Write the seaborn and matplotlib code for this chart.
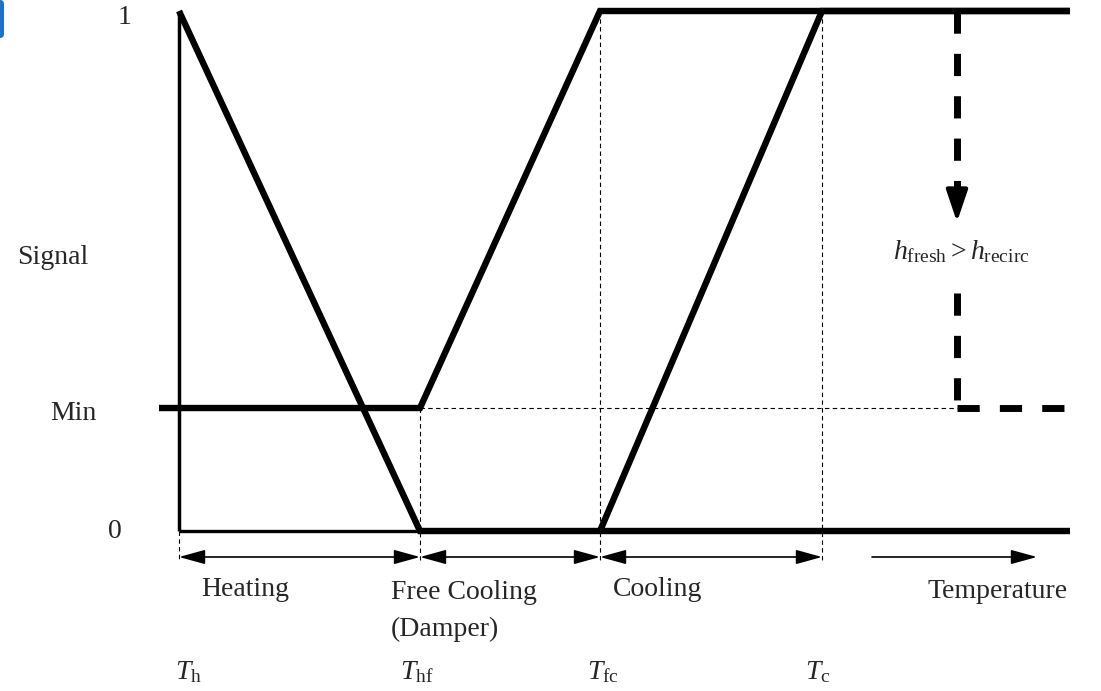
import numpy as np
import pandas as pd
import matplotlib
matplotlib.use("Agg")
import matplotlib.pyplot as plt
import seaborn as sns
from matplotlib.patches import FancyBboxPatch

sns.set_theme(style="white")
plt.rcParams["font.family"] = ["Liberation Serif", "DejaVu Serif"]
plt.rcParams["mathtext.fontset"] = "custom"
plt.rcParams["mathtext.rm"] = "Liberation Serif"
plt.rcParams["mathtext.it"] = "Liberation Serif:italic"
plt.rcParams["lines.solid_capstyle"] = "butt"
plt.rcParams["lines.solid_joinstyle"] = "miter"

# =============================
# DATA (temperature breakpoints, signal levels)
# =============================
T_h, T_hf, T_fc, T_c, T_end = 179, 420, 600, 822, 1070
T_min_start = 159
T_switch = 957
SIG_MIN = 0.2365

heat_x = [T_h, T_hf, T_end]
heat_y = [1, 0, 0]

damper_x = [T_min_start, T_hf, T_fc, T_end]
damper_y = [SIG_MIN, SIG_MIN, 1, 1]

cool_x = [T_fc, T_c, T_end]
cool_y = [0, 1, 1]

regions = ["Heating", "Free Cooling\n(Damper)", "Cooling"]
region_edges = [T_h, T_hf, T_fc, T_c]
temp_labels = [r"$T_{\mathrm{h}}$", r"$T_{\mathrm{hf}}$", r"$T_{\mathrm{fc}}$", r"$T_{\mathrm{c}}$"]
signal_labels = ["1", "Signal", "Min", "0"]

FS = 20

# pixel -> signal mapping for layout
def ypx(p):
    return (531 - p) / 520

fig = plt.figure(figsize=(11.01, 6.91), dpi=100)
ax = fig.add_axes([0, 0, 1, 1])
ax.set_xlim(0, 1101)
ax.set_ylim(ypx(691), ypx(0))
ax.axis("off")

# axis lines (thin)
ax.plot([T_h, T_h], [0, 1], color="black", lw=2.5)
ax.plot([T_h, T_hf], [0, 0], color="black", lw=2.4)

# main curves
for xs, ys in [(heat_x, heat_y), (damper_x, damper_y), (cool_x, cool_y)]:
    df = pd.DataFrame({"T": xs, "S": ys})
    sns.lineplot(data=df, x="T", y="S", sort=False, estimator=None,
                 color="black", linewidth=4.6, ax=ax)

# thin dashed guides
y_low = ypx(560)
thin = dict(color="black", lw=0.8, dashes=(4, 3))
ax.plot([T_h, T_h], [0, y_low], **thin)
ax.plot([T_hf, T_hf], [SIG_MIN, y_low], **thin)
ax.plot([T_fc, T_fc], [1, y_low], **thin)
ax.plot([T_c, T_c], [1, y_low], **thin)
ax.plot([T_hf, T_switch], [SIG_MIN, SIG_MIN], **thin)

# thick dashed enthalpy switch
thick = dict(color="black", lw=5.0, dashes=(3.2, 2.9))
ax.plot([T_switch, T_switch], [1, ypx(192)], **thick)
ax.annotate("", xy=(T_switch, ypx(222)), xytext=(T_switch, ypx(185)),
            arrowprops=dict(arrowstyle="-|>,head_length=0.65,head_width=0.22",
                            color="black", lw=3.0,
                            mutation_scale=30, shrinkA=0, shrinkB=0))
ax.plot([T_switch, T_switch], [ypx(293), SIG_MIN], **thick)
ax.plot([T_switch, T_end], [SIG_MIN, SIG_MIN], **thick)
ax.text(893, ypx(252), r"$h_{\mathrm{fresh}} > h_{\mathrm{recirc}}$",
        fontsize=FS, ha="left", va="center")

# region arrows
y_arr = ypx(557)
head = "head_length=0.8,head_width=0.22"
for a, b in zip(region_edges[:-1], region_edges[1:]):
    ax.annotate("", xy=(b, y_arr), xytext=(a, y_arr),
                arrowprops=dict(arrowstyle="<|-|>," + head, color="black",
                                lw=1.2, mutation_scale=20, shrinkA=0, shrinkB=0))
ax.annotate("", xy=(1037, y_arr), xytext=(872, y_arr),
            arrowprops=dict(arrowstyle="-|>," + head, color="black", lw=1.2,
                            mutation_scale=20, shrinkA=0, shrinkB=0))

# region texts
ax.text(245, ypx(590), regions[0], fontsize=FS, ha="center", va="center")
ax.text(391, ypx(611), regions[1], fontsize=FS, ha="left", va="center",
        linespacing=1.6)
ax.text(613, ypx(590), regions[2], fontsize=FS, ha="left", va="center")
ax.text(928, ypx(592), "Temperature", fontsize=FS, ha="left", va="center")

# temperature labels
for xp, lab in zip([175, 400, 587, 805], temp_labels):
    ax.text(xp, ypx(672), lab, fontsize=FS, ha="left", va="center")

# signal labels
ax.text(125, ypx(18), signal_labels[0], fontsize=FS, ha="center", va="center")
ax.text(17, ypx(257), signal_labels[1], fontsize=FS, ha="left", va="center")
ax.text(50, ypx(414), signal_labels[2], fontsize=FS, ha="left", va="center")
ax.text(115, ypx(531), signal_labels[3], fontsize=FS, ha="center", va="center")

# blue corner mark from the screenshot
ax.add_patch(FancyBboxPatch((-10, ypx(38)), 14, ypx(0) - ypx(38),
                            boxstyle="round,pad=0,rounding_size=4",
                            mutation_aspect=0.0019, color="#1a73c8", lw=0))

fig.savefig("out.png", dpi=100, facecolor="white")
